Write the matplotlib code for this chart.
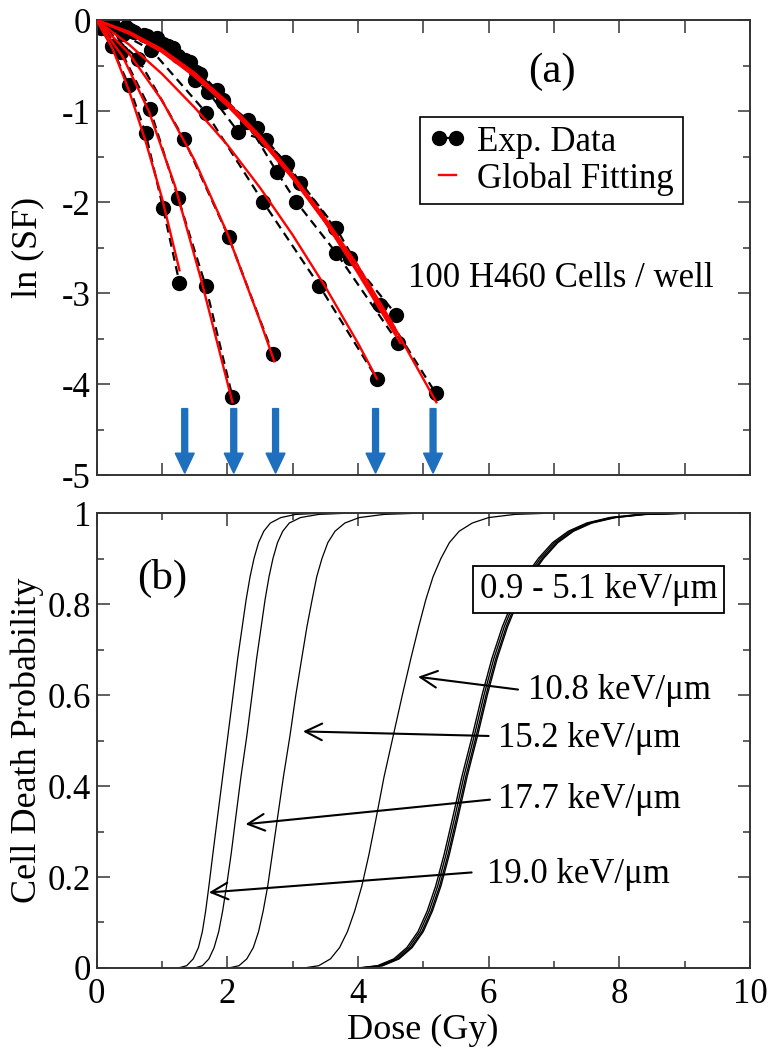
import matplotlib
matplotlib.use("Agg")
import matplotlib.pyplot as plt
from matplotlib.lines import Line2D
from matplotlib.ticker import MultipleLocator

plt.rcParams["font.family"] = ["Liberation Serif", "DejaVu Serif"]
plt.rcParams["axes.unicode_minus"] = False

# ---- panel (a): ln(SF) vs dose, experimental points ----
exp_x = [
    [0, 0.23, 0.49, 0.75, 1.02, 1.27],            # 19.0 keV/um
    [0, 0.38, 0.82, 1.25, 1.67, 2.08],            # 17.7
    [0, 0.64, 1.34, 2.02, 2.70],                  # 15.2
    [0, 0.84, 1.68, 2.55, 3.41, 4.29],            # 10.8
    [0, 0.20, 0.45, 0.72, 1.17, 1.53, 1.94, 2.45, 2.88, 3.67, 4.34, 5.19],
    [0, 0.25, 0.51, 0.78, 1.02, 1.43, 1.84, 2.30, 2.76, 3.06, 3.67, 4.62],
    [0, 0.13, 0.40, 0.92, 1.25, 1.51, 1.71, 2.17, 2.60, 3.11, 3.88, 4.59],
    [0, 0.07, 0.58, 1.10, 1.35, 1.58, 1.94, 2.32, 2.91, 3.65],
]
exp_y = [
    [0, -0.29, -0.71, -1.24, -2.07, -2.89],
    [0, -0.35, -0.98, -1.96, -2.92, -4.14],
    [0, -0.43, -1.31, -2.38, -3.67],
    [0, -0.33, -1.02, -2.00, -2.92, -3.94],
    [0, -0.02, -0.08, -0.16, -0.31, -0.57, -0.90, -1.19, -1.56, -2.29, -3.13, -4.10],
    [0, -0.05, -0.11, -0.18, -0.26, -0.46, -0.77, -1.12, -1.67, -2.00, -2.56, -3.55],
    [0, -0.07, -0.15, -0.20, -0.40, -0.66, -0.79, -1.23, -1.32, -1.79, -2.62, -3.24],
    [0, -0.09, -0.13, -0.28, -0.44, -0.59, -0.88, -1.10, -1.58, -2.29],
]

# global fitting curves
fit_x = [
    [0, 0.25, 0.50, 0.75, 1.00, 1.27],
    [0, 0.40, 0.80, 1.20, 1.60, 2.08],
    [0, 0.50, 1.00, 1.50, 2.00, 2.50, 2.72],
    [0, 0.50, 1.00, 1.50, 2.00, 2.50, 3.00, 3.50, 4.00, 4.29],
    [0, 0.50, 1.00, 1.50, 2.00, 2.50, 3.00, 3.50, 4.00, 4.50, 5.20],
    [0, 0.50, 1.00, 1.50, 2.00, 2.50, 3.00, 3.50, 4.00, 4.65],
    [0, 0.50, 1.00, 1.50, 2.00, 2.50, 3.00, 3.50, 4.00, 4.60],
    [0, 0.50, 1.00, 1.50, 2.00, 2.50, 3.00, 3.50, 3.90],
]
fit_y = [
    [0, -0.32, -0.78, -1.33, -1.95, -2.75],
    [0, -0.40, -1.00, -1.82, -2.85, -4.20],
    [0, -0.37, -0.88, -1.54, -2.34, -3.30, -3.75],
    [0, -0.27, -0.59, -0.96, -1.37, -1.84, -2.36, -2.93, -3.55, -3.94],
    [0, -0.14, -0.33, -0.59, -0.90, -1.27, -1.70, -2.18, -2.70, -3.30, -4.20],
    [0, -0.13, -0.32, -0.58, -0.90, -1.28, -1.72, -2.22, -2.78, -3.55],
    [0, -0.15, -0.35, -0.62, -0.94, -1.31, -1.74, -2.22, -2.75, -3.45],
    [0, -0.14, -0.34, -0.60, -0.92, -1.30, -1.73, -2.22, -2.62],
]

arrow_doses = [1.35, 2.10, 2.74, 4.27, 5.15]

# ---- panel (b): cell death probability ----
prob_y = [0, 0.005, 0.02, 0.045, 0.08, 0.125, 0.18, 0.25, 0.33, 0.42, 0.51, 0.60,
          0.68, 0.75, 0.81, 0.86, 0.90, 0.935, 0.96, 0.978, 0.99, 0.997, 1.0]
prob_19_x = [1.25, 1.38, 1.48, 1.56, 1.62, 1.67, 1.72, 1.78, 1.85, 1.93, 2.01, 2.09,
             2.16, 2.23, 2.29, 2.35, 2.41, 2.48, 2.56, 2.66, 2.82, 3.05, 3.50]
prob_177_x = [1.50, 1.62, 1.72, 1.80, 1.87, 1.93, 1.99, 2.06, 2.13, 2.21, 2.30, 2.38,
              2.45, 2.52, 2.58, 2.64, 2.70, 2.77, 2.85, 2.95, 3.12, 3.40, 3.90]
prob_152_x = [2.02, 2.18, 2.30, 2.40, 2.48, 2.55, 2.62, 2.69, 2.77, 2.86, 2.96, 3.05,
              3.14, 3.22, 3.30, 3.37, 3.45, 3.54, 3.65, 3.80, 4.02, 4.40, 5.00]
prob_108_x = [3.17, 3.40, 3.58, 3.72, 3.84, 3.95, 4.06, 4.17, 4.28, 4.40, 4.54, 4.68,
              4.81, 4.93, 5.04, 5.15, 5.27, 5.40, 5.55, 5.75, 6.00, 6.40, 7.00]
# 0.9 - 5.1 keV/um bundle
low_let_x = [
    [4.00, 4.30, 4.55, 4.75, 4.92, 5.06, 5.19, 5.32, 5.45, 5.59, 5.75, 5.90,
     6.05, 6.21, 6.38, 6.56, 6.76, 6.98, 7.22, 7.50, 7.85, 8.30, 9.00],
    [4.03, 4.33, 4.58, 4.78, 4.95, 5.09, 5.22, 5.35, 5.48, 5.62, 5.78, 5.93,
     6.08, 6.24, 6.41, 6.59, 6.79, 7.01, 7.25, 7.53, 7.88, 8.34, 9.05],
    [4.06, 4.36, 4.61, 4.81, 4.98, 5.12, 5.25, 5.38, 5.51, 5.65, 5.81, 5.96,
     6.11, 6.27, 6.44, 6.62, 6.82, 7.04, 7.28, 7.56, 7.92, 8.38, 9.10],
    [4.08, 4.38, 4.63, 4.83, 5.00, 5.14, 5.27, 5.40, 5.53, 5.67, 5.83, 5.98,
     6.13, 6.29, 6.46, 6.64, 6.84, 7.06, 7.30, 7.58, 7.94, 8.40, 9.15],
]

let_labels = ["10.8 keV/\u03bcm", "15.2 keV/\u03bcm", "17.7 keV/\u03bcm", "19.0 keV/\u03bcm"]
let_text_xy = [(6.60, 0.61), (6.15, 0.505), (6.15, 0.37), (5.97, 0.205)]
let_tail_xy = [(6.45, 0.612), (6.00, 0.51), (6.02, 0.37), (5.74, 0.21)]
let_tip_xy = [(4.92, 0.64), (3.16, 0.52), (2.28, 0.316), (1.72, 0.166)]

top_yticks = [0, -1, -2, -3, -4, -5]
bot_yticks = [0, 0.2, 0.4, 0.6, 0.8, 1.0]
bot_yticklabels = ["0", "0.2", "0.4", "0.6", "0.8", "1"]
bot_xticks = [0, 2, 4, 6, 8, 10]


def style_axes(ax):
    for s in ax.spines.values():
        s.set_linewidth(1.4)
        s.set_color("#333333")
    ax.tick_params(which="both", direction="in", top=True, right=True,
                   width=1.2, color="#444444")
    ax.tick_params(which="major", length=9, labelsize=25)
    ax.tick_params(which="minor", length=5)


fig = plt.figure(figsize=(7.72, 10.5), dpi=100)
ax1 = fig.add_axes([0.125, 0.5476, 0.8465, 0.4333])
ax2 = fig.add_axes([0.125, 0.0781, 0.8465, 0.4333])

# ---------------- panel (a)
for xs, ys in zip(exp_x, exp_y):
    ax1.plot(xs, ys, color="black", ls=(0, (4, 2.5)), lw=1.6,
             marker="o", ms=10, zorder=2)
for xs, ys in zip(fit_x, fit_y):
    ax1.plot(xs, ys, color="red", lw=1.7, zorder=3)

for d in arrow_doses:
    ax1.arrow(d, -4.27, 0, -0.71, width=0.09, head_width=0.29,
              head_length=0.22, length_includes_head=True,
              color="#1f6fbf", zorder=4)

ax1.set_xlim(0, 10)
ax1.set_ylim(-5, 0)
ax1.xaxis.set_major_locator(MultipleLocator(1))
ax1.set_xticklabels([])
ax1.set_yticks(top_yticks)
ax1.set_yticklabels([str(t) for t in top_yticks])
ax1.yaxis.set_minor_locator(MultipleLocator(0.5))
style_axes(ax1)
ax1.tick_params(axis="y", pad=4)
ax1.set_ylabel("ln (SF)", fontsize=26)
ax1.yaxis.set_label_coords(-0.08, 0.5)

ax1.text(6.97, -0.57, "(a)", fontsize=31, ha="center", va="center")
ax1.text(7.11, -2.84, "100 H460 Cells / well", fontsize=25,
         ha="center", va="center")

handles = [
    Line2D([], [], color="black", ls=(0, (2, 1.5)), lw=1.6, marker="o", ms=10),
    Line2D([], [], color="red", lw=1.7),
]
leg = ax1.legend(handles, ["Exp. Data", "Global Fitting"], loc="upper left",
                 bbox_to_anchor=(0.495, 0.787), fontsize=25, numpoints=2,
                 handlelength=1.1, handletextpad=0.3, labelspacing=0.1,
                 borderpad=0.25, borderaxespad=0, fancybox=False,
                 edgecolor="black", framealpha=1)
leg.get_frame().set_linewidth(1.2)

# ---------------- panel (b)
for xs in [prob_19_x, prob_177_x, prob_152_x, prob_108_x]:
    ax2.plot(xs, prob_y, color="black", lw=0.9)
for xs in low_let_x:
    ax2.plot(xs, prob_y, color="black", lw=1.0)
ax2.plot([0, 10], [0, 0], color="black", lw=1.0)

for lab, txy, tail, tip in zip(let_labels, let_text_xy, let_tail_xy, let_tip_xy):
    ax2.annotate("", xy=tip, xytext=tail,
                 arrowprops=dict(arrowstyle="->,head_length=0.6,head_width=0.3",
                                 lw=1.5, color="black", mutation_scale=20,
                                 shrinkA=0, shrinkB=0))
    ax2.text(txy[0], txy[1], lab, fontsize=25, ha="left", va="center")

ax2.text(7.68, 0.832, "0.9 - 5.1 keV/\u03bcm", fontsize=25, ha="center",
         va="center", bbox=dict(boxstyle="square,pad=0.2", fc="white",
                                ec="black", lw=1.3))
ax2.text(1.0, 0.857, "(b)", fontsize=31, ha="center", va="center")

ax2.set_xlim(0, 10)
ax2.set_ylim(0, 1)
ax2.set_xticks(bot_xticks)
ax2.set_xticklabels([str(t) for t in bot_xticks])
ax2.xaxis.set_minor_locator(MultipleLocator(1))
ax2.set_yticks(bot_yticks)
ax2.set_yticklabels(bot_yticklabels)
ax2.yaxis.set_minor_locator(MultipleLocator(0.1))
style_axes(ax2)
ax2.tick_params(axis="y", pad=4)
ax2.tick_params(axis="x", pad=7)
ax2.set_xlabel("Dose (Gy)", fontsize=26)
ax2.xaxis.set_label_coords(0.5, -0.1)
ax2.set_ylabel("Cell Death Probability", fontsize=26)
ax2.yaxis.set_label_coords(-0.08, 0.5)

fig.savefig("out.png", dpi=100)
